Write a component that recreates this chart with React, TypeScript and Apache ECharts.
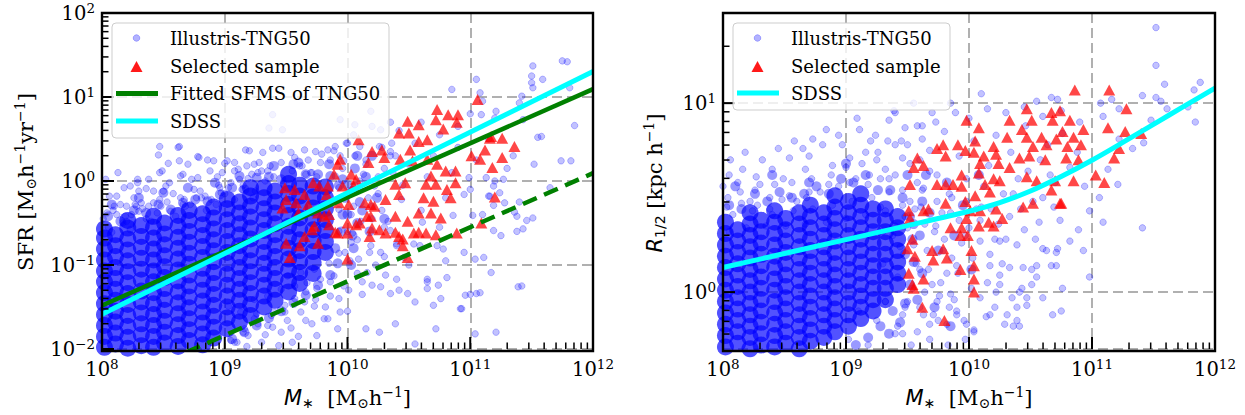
import React, { useEffect, useRef } from "react";
import * as echarts from "echarts";

const SERIF = "DejaVu Serif";

// ---------------- data: log10 values x 100 ----------------
// Left panel (stellar mass vs SFR). Dense core of TNG50 galaxies: [logM*100, [logSFR*100 ...]]
const tngSfrCore: [number, number[]][] = [
  [802, [-198, -185, -172, -159, -146, -133, -120, -107, -94, -81, -68, -57]],
  [811, [-194, -181, -168, -155, -142, -129, -116, -103, -90, -77, -64]],
  [821, [-199, -186, -173, -160, -147, -134, -121, -108, -95, -82, -69, -56, -47]],
  [832, [-196, -183, -170, -157, -144, -131, -118, -105, -92, -79, -66, -53]],
  [842, [-198, -185, -172, -159, -146, -133, -120, -107, -94, -81, -68, -55, -42]],
  [851, [-193, -180, -167, -154, -141, -128, -115, -102, -89, -76, -63, -50]],
  [862, [-197, -184, -171, -158, -145, -132, -119, -106, -93, -80, -67, -54, -41]],
  [871, [-190, -177, -164, -151, -138, -125, -112, -99, -86, -73, -60, -47, -35]],
  [882, [-195, -182, -169, -156, -143, -130, -117, -104, -91, -78, -65, -52, -39]],
  [891, [-187, -174, -161, -148, -135, -122, -109, -96, -83, -70, -57, -44, -31]],
  [902, [-176, -163, -150, -137, -124, -111, -98, -85, -72, -59, -46, -33, -22]],
  [912, [-168, -155, -142, -129, -116, -103, -90, -77, -64, -51, -38, -25]],
  [921, [-160, -147, -134, -121, -108, -95, -82, -69, -56, -43, -30, -18, -8]],
  [932, [-150, -137, -124, -111, -98, -85, -72, -59, -46, -33, -20, -8]],
  [941, [-142, -129, -116, -103, -90, -77, -64, -51, -38, -25, -12]],
  [952, [-132, -119, -106, -93, -80, -67, -54, -41, -28, -15, -3, 8]],
  [961, [-122, -109, -96, -83, -70, -57, -44, -31, -18, -5]],
  [972, [-110, -97, -84, -71, -58, -45, -32, -19, -6]],
  [982, [-85, -72, -59, -46, -33, -20, -7]],
];

// Intermediate-density TNG50 galaxies around the core edge
const tngSfrMid = [
  805,-42, 815,-48, 826,-35, 836,-38, 846,-28, 856,-34, 866,-26, 876,-22, 886,-24, 896,-16, 906,-8, 916,-10,
  926,4, 936,5, 946,2, 956,20, 966,8, 976,8, 986,6, 996,2, 1004,-12, 1000,-40, 1004,-65, 808,-28, 830,-20,
  850,-14, 870,-8, 892,-2, 912,6, 940,18, 960,22, 985,20,
  906,-188, 916,-180, 926,-172, 936,-163, 946,-155, 956,-145, 966,-136, 976,-124, 986,-112, 992,-98, 990,-80,
  995,-60, 996,-40, 998,-20, 993,-5, 1005,-80, 1008,-50, 1010,-25, 1003,-100,
  1000,-5, 1006,15, 1012,-35, 1018,-60, 1015,5, 1024,-20, 1030,-45, 1008,30, 1020,30,
];

// Scattered TNG50 galaxies, flat pairs logM*100, logSFR*100
const tngSfrPoints = [
  862,40, 846,31, 878,29, 886,25, 854,21, 870,20, 849,12, 866,8, 838,2, 836,-9, 850,-12, 827,-28, 842,-26, 820,-30, 830,-36,
  900,21, 908,22, 917,37, 924,20, 931,34, 939,39, 954,34, 927,10, 919,3, 935,12, 897,-14, 881,-20, 867,-22,
  847,41, 863,24, 879,28, 891,24, 902,24, 920,36, 944,39, 863,41, 847,10, 829,2, 813,10, 823,-6, 803,2, 832,-26,
  810,-30, 819,-42, 808,-61, 823,-58, 939,79, 936,63, 947,61, 1006,67, 994,73, 1019,83, 1027,61,
  965,37, 974,35, 984,37, 990,41, 999,45, 1010,41, 1026,41, 1036,45, 1039,30, 961,18, 971,10, 1006,30,
  804,-38, 815,-28, 826,-20, 838,-30, 847,-22, 858,-15, 866,-28, 875,-10, 884,-18, 895,-5, 903,-8, 912,2, 922,8,
  806,-18, 818,-8, 829,-2, 842,-12, 855,-2, 864,6, 878,4, 888,12, 898,10, 908,12, 918,18, 928,22,
  801,-45, 809,-35, 817,-50, 824,-40, 833,-33, 840,-48, 848,-30, 856,-36, 864,-20, 872,-28, 880,-12, 889,-22,
  896,-8, 905,-2, 914,-10, 923,-20, 930,12, 937,18, 946,22, 957,28, 968,25, 979,32, 989,36, 997,24, 812,-18,
  830,-12, 852,-6, 873,2, 894,5, 911,14,
  998,-85, 1004,-62, 1011,-48, 1017,-20, 1006,-5, 1013,8, 996,15, 1022,-6, 1028,-35, 1033,-48, 1037,10, 1044,-22,
  1012,-135, 1023,-100, 1031,-112, 993,-86, 993,-60, 993,-34, 993,-8, 990,6, 985,-98, 975,5, 966,8,
  905,-190, 915,-180, 927,-170, 938,-160, 949,-148, 957,-140, 966,-132, 975,-128, 986,-120, 944,-196, 960,-185,
  971,-170, 982,-150, 993,-140, 1001,-130, 918,-197, 933,-183, 954,-175, 965,-144,
  1003,-73, 1009,-93, 1019,-77, 1027,-85, 1016,-109, 1020,-124, 1027,-126, 1035,-134, 1042,-130, 1049,-134, 1055,-144,
  1040,-117, 1065,-117, 1065,-128, 1074,-124, 1070,-148, 1081,-115, 1076,-140, 1092,-152, 1096,-136, 1105,-134,
  1104,-93, 1111,-91, 1139,-126, 1073,-77, 1078,-81, 1059,-77, 1054,-75, 1046,-91, 1040,-77, 1035,-59, 1061,-49,
  1086,-41, 1119,-59, 1138,-60, 1146,-47, 1136,-37, 1119,-29, 1115,-18, 1119,-6, 1124,-14, 1128,-26, 1102,-41,
  1113,4, 1099,4, 1095,-16,
  1151,137, 1175,143, 1150,125, 1150,117, 1159,121, 1151,111, 1142,101, 1140,93, 1105,121, 1108,105, 1085,109,
  1109,79, 1121,83, 1155,52, 1185,66, 1181,111, 1182,24, 1152,20, 1127,2, 1116,-18, 1165,-8, 1143,-57, 1179,142,
  1174,24, 1151,-44, 1158,53, 1143,73, 1138,-42, 1142,-125, 1121,-180, 1108,-133, 1100,-135, 1104,-182, 1093,-152,
  1072,-176, 1055,-194, 1039,-170, 1026,-180, 1015,-176, 1000,-155, 992,-176, 981,-164, 974,-141, 955,-192,
  966,-166, 949,-156, 939,-174, 926,-158, 916,-176, 910,-192, 1117,-109,
  903,-149, 913,-156, 924,-164, 935,-172, 946,-180, 919,-184, 908,-192, 930,-192, 951,-166, 940,-156, 962,-156,
  973,-149, 984,-164, 924,-141, 935,-137, 946,-129, 957,-125, 967,-121, 978,-117, 989,-113, 997,-125, 962,-109,
  973,-105, 951,-113, 986,-137, 994,-156, 975,-184,
  1000,-60, 1005,-30, 1010,0, 1015,25, 1020,-45, 1025,-15, 1030,15, 1035,35, 1040,-75, 1045,-5, 1050,20, 1055,45,
  1060,-35, 1065,5, 1070,30, 1075,-55, 1080,-20, 1085,10, 1090,40, 1095,-85, 1100,-10, 1105,25, 1110,-40,
  1115,50, 1120,0, 1125,-65, 1130,15, 1135,30, 1140,-25, 1050,-100, 1065,-120, 1080,-95, 1008,-110, 1030,-90,
  1042,60, 1060,70, 1075,55, 1090,65, 1100,80, 1110,95, 1120,75, 1005,55, 1020,65, 1035,70,
  805,-55, 812,-40, 820,-48, 828,-30, 836,-45, 845,-38, 853,-25, 860,-42, 868,-30, 877,-20, 885,-35, 893,-28,
  900,-15, 908,-22, 915,-5, 925,-12, 933,0, 940,5, 948,-3, 955,12, 963,18, 970,10, 978,22, 986,25, 994,30,
  1003,-40, 1010,-10, 1015,20, 1008,-70, 1020,-30, 1025,5, 1030,-55, 1002,-95, 1012,-120, 1018,-85, 1028,40,
  1000,45, 1035,30,
];

// Selected sample (red triangles), logM*100, logSFR*100
const selectedSfr = [
  1106,97, 1073,85, 1082,79, 1090,79, 1072,73, 1089,70, 1049,71, 1058,67, 1078,62, 1050,57, 1042,57, 1009,49,
  1058,47, 1065,49, 1051,37, 1116,51, 1126,51, 1136,41, 1112,37, 1101,30, 1108,26, 1126,28, 1118,16, 1120,-19,
  1020,35, 1028,37, 1030,28, 1017,22, 1043,26, 1053,24, 1065,26, 1073,20, 1080,12, 1088,12, 1088,-2, 1068,6,
  1064,-4, 1072,-4, 1039,-4, 1042,-16, 1047,-2, 1081,-10, 1084,-20, 1070,-24, 1062,-20, 1058,-38, 1068,-38,
  1076,-44, 1049,-48, 1039,-42, 1054,-62, 1064,-62, 1072,-64, 1042,-66, 1031,-62, 1045,-77, 1049,-91, 1089,-62,
  1109,-50, 1020,-56, 1010,-50, 1000,-50, 992,-62, 1000,-62, 1018,-66, 1000,-93, 973,-54, 985,-52, 965,-66,
  976,-74, 961,-77, 950,-74, 953,-91, 947,-32, 958,-26, 968,-28, 949,-8, 957,-10, 972,-2, 977,-6, 983,-16,
  965,-16, 992,20, 989,8, 1003,8, 1007,2, 996,-6, 1005,-6, 993,-26, 1001,-28, 1014,-26, 1022,-30, 1016,-42,
  1007,-52, 985,-40, 976,-38, 960,-38, 1117,53, 950,-22, 994,26, 984,-6, 981,-42, 971,-58, 990,-61, 1019,-42,
  1019,-28, 1031,-22, 1026,-58, 1039,-61, 1045,-69, 1058,-61,
];

// Lines of the left panel (two end points on a log-log plot)
const lineMass = [1e8, 1e12];
const sfmsFit = [0.033, 12.4];
const sfmsLower = [0.0033, 1.24];
const sdssSfr = [0.026, 20.1];

// Right panel (stellar mass vs half-mass radius). Dense core: [logM*100, [logR*100 ...]]
const tngSizeCore: [number, number[]][] = [
  [802, [-29, -23, -17, -11, -5, 1, 7, 13, 19, 25, 31, 37]],
  [812, [-27, -21, -15, -9, -3, 3, 9, 15, 21, 27, 33]],
  [822, [-30, -24, -18, -12, -6, 0, 6, 12, 18, 24, 30, 36, 42]],
  [831, [-28, -22, -16, -10, -4, 2, 8, 14, 20, 26, 32, 38]],
  [842, [-29, -23, -17, -11, -5, 1, 7, 13, 19, 25, 31, 37, 43]],
  [851, [-27, -21, -15, -9, -3, 3, 9, 15, 21, 27, 33, 39]],
  [862, [-30, -24, -18, -12, -6, 0, 6, 12, 18, 24, 30, 36, 42]],
  [871, [-26, -20, -14, -8, -2, 4, 10, 16, 22, 28, 34, 40, 46]],
  [882, [-24, -18, -12, -6, 0, 6, 12, 18, 24, 30, 36, 42]],
  [891, [-21, -15, -9, -3, 3, 9, 15, 21, 27, 33, 39, 45, 51]],
  [902, [-18, -12, -6, 0, 6, 12, 18, 24, 30, 36, 42, 48]],
  [912, [-14, -8, -2, 4, 10, 16, 22, 28, 34, 40, 46, 52]],
  [922, [-10, -4, 2, 8, 14, 20, 26, 32, 38, 44]],
  [932, [-4, 2, 8, 14, 20, 26, 32, 38, 44]],
  [942, [4, 10, 16, 22, 28, 34, 40]],
];

const tngSizeMid = [
  805,46, 815,44, 826,52, 836,48, 846,53, 856,50, 866,52, 876,56, 886,52, 896,60, 906,58, 916,62, 926,54,
  936,54, 946,50, 952,40, 954,28, 955,16, 952,4, 948,-6, 944,-16, 938,-10, 935,-22, 928,-18, 918,-24, 908,-28,
  810,56, 840,62, 870,58, 900,68, 960,30, 962,48, 958,-4,
  948,20, 955,36, 962,10, 968,42, 975,22, 982,58, 988,30, 995,46, 1002,12, 1008,62, 965,62, 950,62, 972,-8, 985,-18,
];

const tngSizePoints = [
  805,62, 816,65, 827,61, 840,65, 854,71, 865,76, 873,81, 881,78, 894,83, 911,86, 924,83, 939,96, 935,91,
  948,87, 962,88, 973,90, 989,95, 962,81, 940,78, 916,74, 903,71, 889,67, 867,65, 849,60, 830,57, 814,53,
  804,50, 822,48, 838,50, 854,51, 870,53, 886,57, 903,58, 919,62, 932,65, 946,71, 808,41, 824,43, 840,41,
  857,43, 873,44, 889,46, 905,48, 921,50, 935,53, 805,32, 819,34, 835,35, 851,35, 867,36, 884,37, 900,39,
  916,41, 932,43, 946,46, 930,32, 940,35,
  806,70, 818,74, 832,70, 845,76, 858,80, 870,72, 884,86, 897,78, 909,92, 920,80, 800,56, 812,58, 826,54,
  842,57, 856,58, 872,60, 888,62,
  803,45, 815,47, 828,46, 838,44, 848,49, 860,48, 868,50, 879,53, 894,56, 908,60, 918,57, 928,60, 900,66,
  913,68, 926,74, 934,80, 950,78, 960,70,
  942,-18, 948,-8, 954,2, 960,12, 966,22, 972,32, 978,42, 984,52, 944,24, 950,34, 956,44, 962,54, 968,64,
  974,48, 980,28, 986,18, 992,38, 998,48, 940,62, 946,54, 952,48, 958,58, 964,36, 970,4, 976,-2, 982,10,
  988,-4, 994,26, 1000,34, 1006,44, 1012,56, 1018,44, 1024,36, 1030,28, 1036,52, 1042,44, 1048,64, 1054,28,
  1060,50, 1066,62,
  945,80, 952,68, 958,88, 963,55, 968,75, 974,62, 980,85, 986,50, 992,72, 998,60, 1004,80, 1010,45, 1016,67,
  1022,83, 1028,52, 1034,74, 1040,60, 1046,88, 1052,48, 1058,70, 1064,78, 1070,58, 1076,84, 1082,66, 1088,74,
  1094,56, 948,40, 955,25, 961,45, 967,12, 973,35, 979,22, 985,42, 991,10, 997,30, 1003,18, 1009,38, 1015,5,
  1021,28, 1027,15, 1033,40, 1039,25, 1045,33, 1051,12, 1057,37, 1063,22, 1069,45, 942,8, 950,-5, 957,15,
  964,0, 971,-12, 977,5, 984,-8, 990,14, 996,-15, 1002,2, 935,60, 938,30, 932,-5, 928,45, 925,70, 930,15,
  940,95, 955,100, 970,95, 985,100, 1000,92, 1015,97, 1030,95, 1045,98, 1060,93, 1075,96, 1090,90, 1010,105,
  902,-25, 910,-10, 918,-28, 925,-15, 932,-5, 940,-22, 946,-12, 953,-28, 960,-8, 968,-25, 975,-15, 983,-28,
  990,-10, 997,-25, 1004,-20,
  1017,14, 1025,9, 1033,13, 1044,13, 1055,14, 1071,14, 1060,23, 1071,21, 1082,27, 1093,22, 1098,8, 1076,2,
  1055,8, 1041,0, 1047,-3, 1035,-3, 1021,-8, 1014,-13, 1031,-12, 1039,-15, 1060,-3, 1068,-12, 1075,-10,
  1009,-3, 998,-17, 1004,-21, 990,-12, 982,-17, 968,-17, 963,-12, 958,-21, 946,-22, 974,-5, 985,-1, 1017,20,
  1009,27, 1025,27, 1098,43, 1106,50, 1109,37, 1121,57, 1141,34, 1113,65, 1133,76, 1122,81, 1109,93, 1122,97,
  1107,100, 1116,102, 1055,101, 1067,103, 1072,102,
  1152,140, 1152,120, 1159,110, 1188,111, 1183,107, 1141,104, 1152,103, 1156,101, 1161,97, 1178,98, 1184,90,
  1148,91, 1142,79, 1089,33, 1074,38, 1067,14, 1072,23, 1051,4, 1043,2, 1047,-7, 1039,-8, 1025,4, 1022,0,
  1029,-17, 1036,-18, 1017,-12, 1041,-18,
];

const selectedSize = [
  1086,107, 1114,107, 1128,97, 1047,97, 1067,95, 1074,96, 998,91, 1033,91, 1051,91, 1068,91, 1082,91, 1008,87,
  1043,86, 1076,85, 1093,86, 1113,87, 1127,85, 1031,82, 1047,82, 1059,82, 1071,81, 1085,82, 1091,78, 974,76,
  979,78, 991,78, 1005,80, 997,75, 1004,74, 1020,77, 1052,77, 1063,78, 1080,77, 958,71, 955,66, 963,67, 981,72,
  1012,72, 1022,73, 1041,71, 1049,72, 1062,70, 1079,71, 1089,70, 1009,68, 1024,68, 1033,66, 994,62, 1008,63,
  1020,60, 1025,59, 1047,61, 1055,59, 1070,59, 1085,59, 1103,62, 1110,58, 952,57, 974,57, 981,57, 987,57,
  994,56, 1013,57, 1017,53, 1067,54, 981,47, 997,48, 1005,51, 1044,45, 1052,47, 1074,47, 951,43, 963,43, 967,44,
  1001,43, 1009,43, 1022,44, 952,39, 998,39, 1027,39, 985,34, 994,34, 1008,35, 1016,37, 1020,35, 993,30, 999,30,
  954,28, 950,23, 970,22, 979,23, 1002,22, 956,19, 971,17, 982,18, 1004,14, 951,10, 963,7, 993,12, 1004,7,
  955,2, 1004,0, 962,-8, 980,-15, 1140,84, 1122,76, 1118,71, 1075,47, 954,4,
];

// SDSS size-mass relation (right panel)
const sdssSizeMass = [1e8, 3.16e8, 1e9, 3.16e9, 1e10, 1.78e10, 3.16e10, 5.62e10, 1e11, 1.78e11, 3.16e11, 5.62e11, 1e12];
const sdssSize = [1.349, 1.6, 1.897, 2.249, 2.679, 2.979, 3.428, 4.093, 4.989, 6.194, 7.727, 9.638, 12.02];

// Axis ticks
const massMajor = [1e8, 1e9, 1e10, 1e11, 1e12];
const sfrMajor = [0.01, 0.1, 1, 10, 100];
const sizeMajor = [1, 10];
const minorFactors = [2, 3, 4, 5, 6, 7, 8, 9];
const massDecades = [1e8, 1e9, 1e10, 1e11];
const sfrDecades = [0.01, 0.1, 1, 10];
const sizeMinor = [0.6, 0.7, 0.8, 0.9, 2, 3, 4, 5, 6, 7, 8, 9, 20];

const legendSfrLabels = ["Illustris-TNG50", "Selected sample", "Fitted SFMS of TNG50", "SDSS"];
const legendSizeLabels = ["Illustris-TNG50", "Selected sample", "SDSS"];

// ---------------- helpers ----------------
const GL = { left: 102, top: 13, width: 491, height: 338 };
const GR = { left: 723, top: 13, width: 492, height: 338 };

const pairs = (flat: number[]) => {
  const out: number[][] = [];
  for (let i = 0; i + 1 < flat.length; i += 2) out.push([Math.pow(10, flat[i] / 100), Math.pow(10, flat[i + 1] / 100)]);
  return out;
};
const cols = (c: [number, number[]][]) => {
  const out: number[][] = [];
  c.forEach(([x, ys]) => ys.forEach((y) => out.push([Math.pow(10, x / 100), Math.pow(10, y / 100)])));
  return out;
};
const zip = (a: number[], b: number[]) => a.map((v, i) => [v, b[i]]);
const minorsOf = (decades: number[]) => {
  const out: number[] = [];
  decades.forEach((d) => minorFactors.forEach((f) => out.push(+(d * f).toPrecision(6))));
  return out;
};

const tickFmt = (v: number) => {
  const e = Math.log10(v);
  const r = Math.round(e);
  if (Math.abs(e - r) > 1e-6) return "";
  return `{b|10}{e|${r < 0 ? "\u2212" + -r : r}}`;
};
const tickRich = {
  b: { fontFamily: SERIF, fontSize: 19.5, color: "#000" },
  e: { fontFamily: SERIF, fontSize: 13.5, color: "#000", padding: [0, 0, 11, 0] },
};
const nameRich = {
  r: { fontFamily: SERIF, fontSize: 21, color: "#000" },
  it: { fontFamily: "DejaVu Sans", fontStyle: "italic", fontSize: 21, color: "#000" },
  sub: { fontFamily: SERIF, fontSize: 14, color: "#000", padding: [10, 0, 0, 0] },
  subs: { fontFamily: "DejaVu Sans", fontSize: 14, color: "#000", padding: [10, 0, 0, 0] },
  sup: { fontFamily: SERIF, fontSize: 14, color: "#000", padding: [0, 0, 12, 0] },
};

const splitLine = { show: true, lineStyle: { color: "#b0b0b0", type: [10, 5], width: 2 } };

function xAxis(gridIndex: number, name: string) {
  return {
    type: "log", logBase: 10, gridIndex, min: 1e8, max: 1e12, splitNumber: 4,
    axisLine: { show: false }, axisTick: { show: false },
    axisLabel: { formatter: tickFmt, rich: tickRich, margin: 8 },
    splitLine,
    name, nameLocation: "middle", nameGap: 36,
    nameTextStyle: { rich: nameRich },
  };
}
function yAxis(gridIndex: number, min: number, max: number) {
  return {
    type: "log", logBase: 10, gridIndex, min, max,
    axisLine: { show: false }, axisTick: { show: false },
    axisLabel: { formatter: tickFmt, rich: tickRich, margin: 7 },
    splitLine,
  };
}

function tickSeries(xi: number, yi: number, data: number[][], horizontal: boolean) {
  return {
    type: "custom", xAxisIndex: xi, yAxisIndex: yi, silent: true, z: 10, clip: false,
    data,
    renderItem: (params: any, api: any) => {
      const cs = params.coordSys;
      const p = api.coord([api.value(0), api.value(1)]);
      const len = api.value(2);
      const lw = len > 8 ? 2 : 1.5;
      if (horizontal) {
        const yb = cs.y + cs.height;
        return { type: "line", shape: { x1: p[0], y1: yb, x2: p[0], y2: yb - len }, style: { stroke: "#000", lineWidth: lw } };
      }
      return { type: "line", shape: { x1: cs.x, y1: p[1], x2: cs.x + len, y2: p[1] }, style: { stroke: "#000", lineWidth: lw } };
    },
  };
}

function legend(bx: number, by: number, bw: number, bh: number, items: any[]) {
  const els: any[] = [
    { type: "rect", z: 100, silent: true, shape: { x: bx, y: by, width: bw, height: bh, r: 4 },
      style: { fill: "rgba(255,255,255,0.8)", stroke: "rgba(200,200,200,0.9)", lineWidth: 1 } },
  ];
  items.forEach((it) => {
    const cy = it.y;
    const mx = bx + 24.5;
    if (it.kind === "circle")
      els.push({ type: "circle", z: 101, silent: true, shape: { cx: mx, cy, r: 3.3 },
        style: { fill: "rgba(0,0,255,0.3)", stroke: "rgba(0,0,255,0.35)", lineWidth: 0.8 } });
    if (it.kind === "tri")
      els.push({ type: "polygon", z: 101, silent: true,
        shape: { points: [[mx - 6, cy + 5.5], [mx + 6, cy + 5.5], [mx, cy - 5.5]] },
        style: { fill: "rgba(255,0,0,0.9)" } });
    if (it.kind === "line")
      els.push({ type: "line", z: 101, silent: true, shape: { x1: bx + 4, y1: cy, x2: bx + 46, y2: cy },
        style: { stroke: it.color, lineWidth: 5 } });
    els.push({ type: "text", z: 101, silent: true, x: bx + 58, y: cy,
      style: { text: it.label, fontFamily: SERIF, fontSize: 18, fill: "#000", verticalAlign: "middle", align: "left" } });
  });
  return els;
}

function frame(g: any) {
  return { type: "rect", z: 120, silent: true, shape: { x: g.left, y: g.top, width: g.width, height: g.height },
    style: { fill: "none", stroke: "#000", lineWidth: 2.4 } };
}

function yName(text: string, x: number, y: number) {
  return { type: "text", z: 50, silent: true, x, y, rotation: Math.PI / 2,
    style: { text, rich: nameRich, align: "center", verticalAlign: "middle" } };
}

export default function App() {
  const ref = useRef<HTMLDivElement>(null);
  useEffect(() => {
    if (!ref.current) return;
    const chart = echarts.init(ref.current, null, { renderer: "svg" });

    const massTicks = [
      ...massMajor.map((v) => [v, 1, 12]),
      ...minorsOf(massDecades).map((v) => [v, 1, 6.5]),
    ];
    const sfrTicks = [
      ...sfrMajor.map((v) => [1e9, v, 12]),
      ...minorsOf(sfrDecades).map((v) => [1e9, v, 6.5]),
    ];
    const sizeTicks = [
      ...sizeMajor.map((v) => [1e9, v, 12]),
      ...sizeMinor.map((v) => [1e9, v, 6.5]),
    ];

    const blueCore = { color: "rgba(0,0,255,0.85)" };
    const blueMid = { color: "rgba(0,0,255,0.5)" };
    const bluePt = { color: "rgba(0,0,255,0.3)", borderColor: "rgba(0,0,255,0.4)", borderWidth: 0.8 };
    const redTri = { color: "rgba(255,0,0,0.9)" };
    const xName = "{it|M}{subs|\u2217}{r|  [M}{sub|\u2299}{r|h}{sup|\u22121}{r|]}";

    const scatter = (xi: number, data: number[][], size: any, itemStyle: any, z: number, symbol = "circle") => ({
      type: "scatter", xAxisIndex: xi, yAxisIndex: xi, data, symbol, symbolSize: size, itemStyle, silent: true, z,
    });

    const option: any = {
      animation: false,
      grid: [
        { ...GL, show: false },
        { ...GR, show: false },
      ],
      xAxis: [xAxis(0, xName), xAxis(1, xName)],
      yAxis: [yAxis(0, 0.01, 100), yAxis(1, 0.5, 30)],
      series: [
        scatter(0, cols(tngSfrCore), 17, blueCore, 2),
        scatter(0, pairs(tngSfrMid), 10, blueMid, 2),
        scatter(0, pairs(tngSfrPoints), 6.5, bluePt, 2),
        scatter(0, pairs(selectedSfr), [12, 11], redTri, 3, "triangle"),
        { type: "line", xAxisIndex: 0, yAxisIndex: 0, data: zip(lineMass, sfmsFit), symbol: "none", lineStyle: { color: "#008000", width: 4.5 }, silent: true, z: 5 },
        { type: "line", xAxisIndex: 0, yAxisIndex: 0, data: zip(lineMass, sfmsLower), symbol: "none", lineStyle: { color: "#008000", width: 4.5, type: [15, 8] }, silent: true, z: 5 },
        { type: "line", xAxisIndex: 0, yAxisIndex: 0, data: zip(lineMass, sdssSfr), symbol: "none", lineStyle: { color: "#00ffff", width: 5 }, silent: true, z: 6 },
        tickSeries(0, 0, massTicks.map((t) => [t[0], 0.01, t[2]]), true),
        tickSeries(0, 0, sfrTicks, false),

        scatter(1, cols(tngSizeCore), 17, blueCore, 2),
        scatter(1, pairs(tngSizeMid), 10, blueMid, 2),
        scatter(1, pairs(tngSizePoints), 6.5, bluePt, 2),
        scatter(1, pairs(selectedSize), [12, 11], redTri, 3, "triangle"),
        { type: "line", xAxisIndex: 1, yAxisIndex: 1, data: zip(sdssSizeMass, sdssSize), symbol: "none", smooth: 0.3, lineStyle: { color: "#00ffff", width: 5 }, silent: true, z: 6 },
        tickSeries(1, 1, massTicks.map((t) => [t[0], 0.5, t[2]]), true),
        tickSeries(1, 1, sizeTicks, false),
      ],
      graphic: [
        ...legend(112, 23, 277, 115, [
          { kind: "circle", y: 38, label: legendSfrLabels[0] },
          { kind: "tri", y: 66.5, label: legendSfrLabels[1] },
          { kind: "line", y: 93.5, color: "#008000", label: legendSfrLabels[2] },
          { kind: "line", y: 121, color: "#00ffff", label: legendSfrLabels[3] },
        ]),
        ...legend(733, 23, 217, 87, [
          { kind: "circle", y: 38, label: legendSizeLabels[0] },
          { kind: "tri", y: 66.5, label: legendSizeLabels[1] },
          { kind: "line", y: 93, color: "#00ffff", label: legendSizeLabels[2] },
        ]),
        frame(GL),
        frame(GR),
        yName("{r|SFR [M}{sub|\u2299}{r|h}{sup|\u22121}{r|yr}{sup|\u22121}{r|]}", 26, 182),
        yName("{it|R}{subs|1/2}{r| [kpc h}{sup|\u22121}{r|]}", 655, 183),
      ],
    };
    chart.setOption(option);
    return () => chart.dispose();
  }, []);
  return <div ref={ref} style={{ position: "fixed", left: 0, top: 0, width: 1245, height: 415, background: "#fff" }} />;
}
